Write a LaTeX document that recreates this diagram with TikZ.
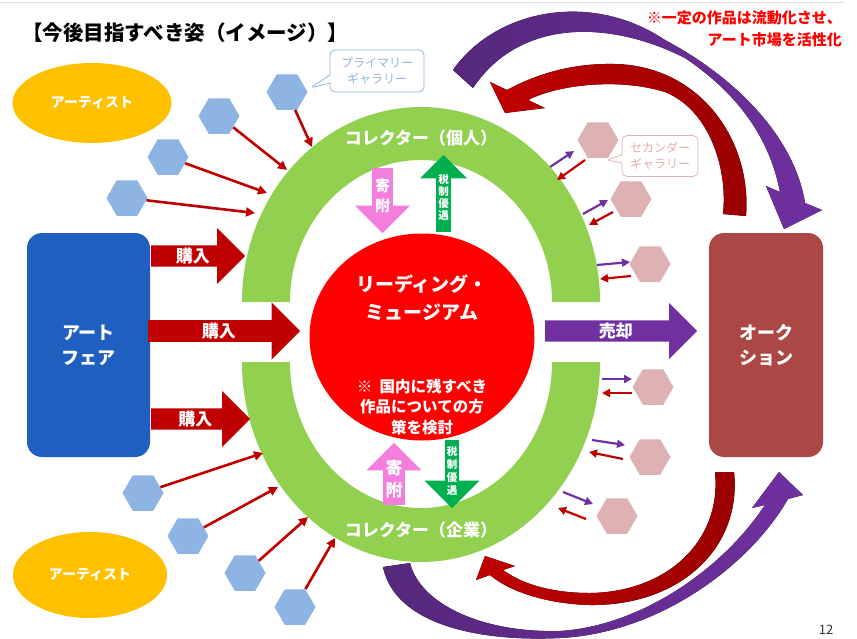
\documentclass[tikz,border=0pt]{standalone}
\usepackage{fontspec}
\setmainfont{Noto Sans CJK JP}
\usetikzlibrary{shapes.geometric,shapes.arrows,shapes.callouts,arrows.meta}

\definecolor{ringgreen}{HTML}{92D050}
\definecolor{buyred}{HTML}{C00000}
\definecolor{darkred}{HTML}{9A0000}
\definecolor{sellpurple}{HTML}{7030A0}
\definecolor{deeppurple}{HTML}{55287C}
\definecolor{fairblue}{HTML}{1F5FBF}
\definecolor{auctionred}{HTML}{AB4744}
\definecolor{artistorange}{HTML}{FFC000}
\definecolor{primblue}{HTML}{8DB4E2}
\definecolor{secpink}{HTML}{DEB2B2}
\definecolor{secpinktext}{HTML}{DFAFAF}
\definecolor{donatepink}{HTML}{F47EDD}
\definecolor{taxgreen}{HTML}{00B050}
\definecolor{museumred}{HTML}{FF0000}

\newcommand{\fsz}[2]{\fontsize{#1}{#2}\selectfont}

\begin{document}
\begin{tikzpicture}[x=1pt,y=-1pt,
    every node/.style={inner sep=0pt,text=white,font=\bfseries},
    artist/.style={ellipse,fill=artistorange,font=\bfseries\fsz{14}{16}},
    venue/.style={rectangle,rounded corners=15pt,fill=#1,align=center,minimum height=224pt,font=\bfseries\fsz{18}{25}},
    hexa/.style={regular polygon,regular polygon sides=6,minimum size=41pt,fill=#1},
    bigarrow/.style={single arrow,fill=#1,minimum width=56pt,single arrow head extend=13.5pt,font=\bfseries\fsz{17}{17}},
    smallarrow/.style={single arrow,fill=#1,align=center},
    gallery/.style={rectangle callout,draw=#1,fill=white,line width=0.8pt,rounded corners=5pt,align=center,callout pointer width=8pt,font=\fsz{12}{16}},
    feed/.style={buyred,line width=2.6pt,-{Triangle[length=9pt,width=9pt]}},
    sell/.style={sellpurple,line width=2.2pt,-{Triangle[length=8pt,width=8pt]}},
    buy/.style={buyred,line width=2.2pt,-{Triangle[length=8pt,width=8pt]}}]

    \useasboundingbox (0,0) rectangle (857,638);
    \fill[white] (0,0) rectangle (857,638);
    \draw[black!12,line width=1pt] (0,2) -- (845,2);

    % big curved flows
    \fill[left color=deeppurple,right color=sellpurple]
        (453,70) .. controls (495,10) and (590,-10) .. (665,40)
        .. controls (740,80) and (795,140) .. (805,203)
        -- (822,210) -- (784,229) -- (766,186) -- (780,192)
        .. controls (770,140) and (740,95) .. (685,58)
        .. controls (610,20) and (520,18) .. (473,88) -- cycle;
    \fill[left color=buyred,right color=darkred]
        (746,216) .. controls (752,140) and (700,66) .. (615,64)
        .. controls (570,63) and (535,75) .. (507,90)
        -- (490,82) -- (505,113) -- (545,108) -- (528,100)
        .. controls (560,84) and (620,78) .. (665,92)
        .. controls (710,110) and (728,170) .. (723,214) -- cycle;
    \fill[left color=buyred,right color=darkred]
        (734,472) .. controls (742,548) and (680,606) .. (590,605)
        .. controls (548,604) and (510,592) .. (490,575)
        -- (476,580) -- (485,556) -- (515,566) -- (503,570)
        .. controls (525,586) and (556,593) .. (590,593)
        .. controls (668,592) and (722,540) .. (715,472) -- cycle;
    \fill[left color=deeppurple,right color=sellpurple]
        (383,567) .. controls (395,625) and (480,642) .. (560,638)
        .. controls (660,633) and (750,565) .. (788,499)
        -- (803,495) -- (779,472) -- (752,508) -- (765,505)
        .. controls (722,570) and (640,626) .. (560,631)
        .. controls (480,633) and (420,603) .. (410,563) -- cycle;

    % collector ring
    \fill[ringgreen] (242,302) arc[start angle=180,end angle=360,x radius=179,y radius=195]
        -- (552,302) arc[start angle=0,end angle=-180,x radius=131,y radius=142] -- cycle;
    \fill[ringgreen] (242,362) arc[start angle=180,end angle=0,x radius=179,y radius=200]
        -- (552,362) arc[start angle=0,end angle=180,x radius=131,y radius=146] -- cycle;
    \node[font=\bfseries\fsz{17}{17}] (collind) at (421,138) {コレクター（個人）};
    \node[font=\bfseries\fsz{17}{17}] (collcorp) at (421,530) {コレクター（企業）};

    \node[ellipse,fill=museumred,minimum width=225pt,minimum height=207pt] (museum) at (422,337) {};
    \node[align=center,font=\bfseries\fsz{19}{28.5}] (museumname) at (422,298) {リーディング・\\ミュージアム};
    \node[align=center,font=\bfseries\fsz{15.5}{20.5}] (museumnote) at (422,407) {※\ \ 国内に残すべき\\作品についての方\\策を検討};

    \node[smallarrow=donatepink,shape border rotate=270,minimum width=55pt,single arrow head extend=12.5pt,minimum height=65pt,anchor=tail,font=\bfseries\fsz{15}{20}] (gift1) at (382.5,168) {寄\\附};
    \node[smallarrow=taxgreen,shape border rotate=90,minimum width=47pt,single arrow head extend=12pt,minimum height=77pt,anchor=tail,font=\bfseries\fsz{10.5}{12}] (tax1) at (443.5,232) {税\\制\\優\\遇};
    \node[smallarrow=donatepink,shape border rotate=90,minimum width=55pt,single arrow head extend=13.5pt,minimum height=62pt,anchor=tail,font=\bfseries\fsz{17}{22}] (gift2) at (394,505) {寄\\附};
    \node[smallarrow=taxgreen,shape border rotate=270,minimum width=55pt,single arrow head extend=16.5pt,minimum height=68pt,anchor=tail,font=\bfseries\fsz{10.5}{13}] (tax2) at (452,440) {税\\制\\優\\遇};

    % sellers and markets
    \node[artist,minimum width=159pt,minimum height=80pt] (artist1) at (92,103) {アーティスト};
    \node[artist,minimum width=154pt,minimum height=86pt] (artist2) at (90,575) {アーティスト};
    \node[venue=fairblue,minimum width=123pt] (artfair) at (88.5,345) {アート\\フェア};
    \node[venue=auctionred,minimum width=114pt] (auction) at (766,345) {オーク\\ション};

    \node[bigarrow=buyred,minimum height=94pt,anchor=tail] (buy1) at (151,256) {購入};
    \node[bigarrow=buyred,minimum height=152pt,minimum width=57pt,anchor=tail] (buy2) at (148,331) {購入};
    \node[bigarrow=buyred,minimum height=99pt,anchor=tail] (buy3) at (151,419) {購入};
    \node[bigarrow=sellpurple,minimum height=152pt,anchor=tail] (sale) at (545,331) {売却};

    % primary galleries
    \foreach \n/\x/\y in {A/287/92,B/219/116,C/168/157,D/127/198,E/143/493,F/188/536,G/245/573,H/295/607}
        \node[hexa=primblue] (h\n) at (\x,\y) {};
    \foreach \n/\x/\y in {A/312/147,B/287/170,C/267/193,D/255/213,E/263/453,F/278/487,G/308/517,H/335/538}
        \coordinate (e\n) at (\x,\y);
    \foreach \n in {A,...,H}
        \draw[feed] (h\n) -- (e\n);
    \node[gallery=primblue,text=primblue,minimum width=94pt,minimum height=42pt,
        callout absolute pointer={(310,88)}] (primcall) at (377,71) {プライマリー\\ギャラリー};

    % secondary galleries
    \foreach \n/\x/\y in {1/598/140,2/631/199,3/650/264,4/653/387,5/650/457,6/617/516}
        \node[hexa=secpink] (s\n) at (\x,\y) {};
    \foreach \n/\ax/\ay/\bx/\by/\cx/\cy/\dx/\dy in {
        1/550/167/574/151/585/160/557/180,
        2/583/214/608/200/613/212/589/225,
        3/597/265/630/262/631/276/600/279,
        4/602/379/632/379/632/393/602/393,
        5/592/440/625/445/623/459/589/452,
        6/563/492/593/504/586/519/558/508} {
        \coordinate (so\n) at (\ax,\ay);
        \coordinate (si\n) at (\bx,\by);
        \coordinate (bo\n) at (\cx,\cy);
        \coordinate (bi\n) at (\dx,\dy);
        \draw[sell] (so\n) -- (si\n);
        \draw[buy] (bo\n) -- (bi\n);
    }
    \node[gallery=secpink,text=secpinktext,minimum width=76pt,minimum height=41pt,
        callout absolute pointer={(606,160)}] (seccall) at (660,156) {セカンダー\\ギャラリー};

    % headings
    \node[anchor=west,text=black,font=\bfseries\fsz{20.5}{24}] (title) at (22,33) {【今後目指すべき姿（イメージ）】};
    \node[anchor=east,align=right,text=museumred,font=\bfseries\fsz{15}{22}] (remark) at (842,29) {※一定の作品は流動化させ、\\アート市場を活性化};
    \node[text=black!80,font=\fsz{13}{13}] (pagenum) at (826,630) {12};
\end{tikzpicture}
\end{document}
